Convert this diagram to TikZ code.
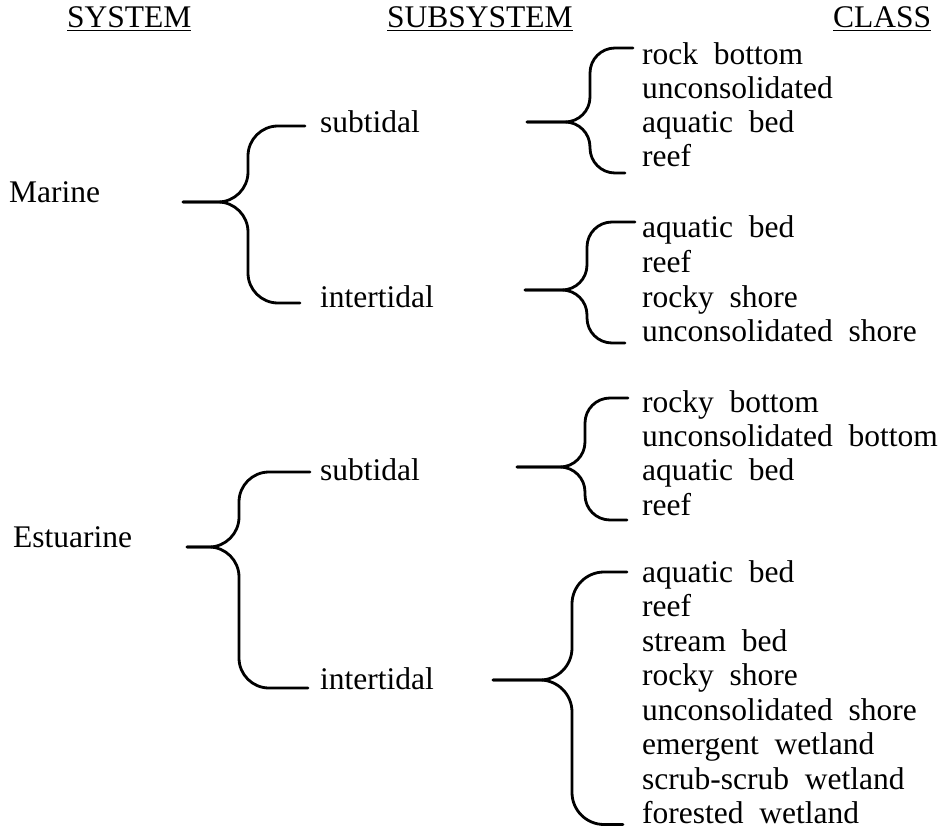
\documentclass[tikz,border=0pt]{standalone}
\usepackage{fontspec}
\setmainfont{Liberation Serif}[WordSpace=2]
\usetikzlibrary{positioning}

\begin{document}
\begin{tikzpicture}[x=1pt, y=1pt,
  every node/.style={font=\fontsize{31.5}{34.5}\selectfont},
  head/.style={anchor=base west, inner sep=0pt},
  sysname/.style={anchor=base west, inner sep=0pt},
  cls/.style={anchor=base west, inner sep=0pt},
  forkline/.style={line width=2.8pt, rounded corners=28pt, line cap=round}
]
  \useasboundingbox (0,0) rectangle (940,-832);

  % column headings
  \node[head] (hsys) at (67,-28) {\underline{SYSTEM}};
  \node[head] (hsub) at (387,-28) {\underline{SUBSYSTEM}};
  \node[head] (hcls) at (833,-28) {\underline{CLASS}};

  % systems and subsystems
  \node[sysname] (marine) at (9,-202) {Marine};
  \node[sysname] (estuarine) at (13,-547) {Estuarine};
  \node[sysname] (msub) at (320,-133) {subtidal};
  \node[sysname] (mint) at (320,-307) {intertidal};
  \node[sysname] (esub) at (320,-480) {subtidal};
  \node[sysname] (eint) at (320,-689) {intertidal};

  % classes, marine subtidal
  \node[cls] (ms1) at (642,-65) {rock bottom};
  \node[cls] (ms2) at ([yshift=-34]ms1.base west) {unconsolidated};
  \node[cls] (ms3) at ([yshift=-34]ms2.base west) {aquatic bed};
  \node[cls] (ms4) at ([yshift=-34]ms3.base west) {reef};
  % classes, marine intertidal
  \node[cls] (mi1) at (642,-237) {aquatic bed};
  \node[cls] (mi2) at ([yshift=-35]mi1.base west) {reef};
  \node[cls] (mi3) at ([yshift=-35]mi2.base west) {rocky shore};
  \node[cls] (mi4) at ([yshift=-34]mi3.base west) {unconsolidated shore};
  % classes, estuarine subtidal
  \node[cls] (es1) at (642,-412) {rocky bottom};
  \node[cls] (es2) at ([yshift=-34]es1.base west) {unconsolidated bottom};
  \node[cls] (es3) at ([yshift=-34.5]es2.base west) {aquatic bed};
  \node[cls] (es4) at ([yshift=-34.5]es3.base west) {reef};
  % classes, estuarine intertidal
  \node[cls] (ei1) at (642,-582) {aquatic bed};
  \node[cls] (ei2) at ([yshift=-34.5]ei1.base west) {reef};
  \node[cls] (ei3) at ([yshift=-34.5]ei2.base west) {stream bed};
  \node[cls] (ei4) at ([yshift=-34.5]ei3.base west) {rocky shore};
  \node[cls] (ei5) at ([yshift=-34.5]ei4.base west) {unconsolidated shore};
  \node[cls] (ei6) at ([yshift=-34.5]ei5.base west) {emergent wetland};
  \node[cls] (ei7) at ([yshift=-34.5]ei6.base west) {scrub-scrub wetland};
  \node[cls] (ei8) at ([yshift=-34.5]ei7.base west) {forested wetland};

  % brace tips
  \coordinate (marinetip) at (183,-202);
  \coordinate (estuarinetip) at (187,-547);
  \coordinate (msubtip) at (527,-122);
  \coordinate (minttip) at (525,-290);
  \coordinate (esubtip) at (517,-467);
  \coordinate (einttip) at (493,-680);

  % system braces
  \draw[forkline, rounded corners=30pt] (marinetip) -| ([xshift=-72, yshift=7]msub.base west) -- ([xshift=-15, yshift=7]msub.base west);
  \draw[forkline, rounded corners=30pt] (marinetip) -| ([xshift=-72, yshift=4]mint.base west) -- ([xshift=-20, yshift=4]mint.base west);
  \draw[forkline, rounded corners=30pt] (estuarinetip) -| ([xshift=-81, yshift=8]esub.base west) -- ([xshift=-10, yshift=8]esub.base west);
  \draw[forkline, rounded corners=30pt] (estuarinetip) -| ([xshift=-81, yshift=1]eint.base west) -- ([xshift=-12, yshift=1]eint.base west);

  % class braces
  \draw[forkline, rounded corners=25pt] (msubtip) -| ([xshift=-52, yshift=17]ms1.base west) -- ([xshift=-9, yshift=17]ms1.base west);
  \draw[forkline, rounded corners=25pt] (msubtip) -| ([xshift=-52, yshift=-6]ms4.base west) -- ([xshift=-17, yshift=-6]ms4.base west);
  \draw[forkline, rounded corners=25pt] (minttip) -| ([xshift=-55, yshift=15]mi1.base west) -- ([xshift=-7, yshift=15]mi1.base west);
  \draw[forkline, rounded corners=25pt] (minttip) -| ([xshift=-55, yshift=-2]mi4.base west) -- ([xshift=-17, yshift=-2]mi4.base west);
  \draw[forkline, rounded corners=25pt] (esubtip) -| ([xshift=-57, yshift=14]es1.base west) -- ([xshift=-14, yshift=14]es1.base west);
  \draw[forkline, rounded corners=25pt] (esubtip) -| ([xshift=-57, yshift=-5]es4.base west) -- ([xshift=-15, yshift=-5]es4.base west);
  \draw[forkline, rounded corners=32pt] (einttip) -| ([xshift=-70, yshift=10]ei1.base west) -- ([xshift=-15, yshift=10]ei1.base west);
  \draw[forkline, rounded corners=32pt] (einttip) -| ([xshift=-70, yshift=-1]ei8.base west) -- ([xshift=-19, yshift=-1]ei8.base west);
\end{tikzpicture}
\end{document}
